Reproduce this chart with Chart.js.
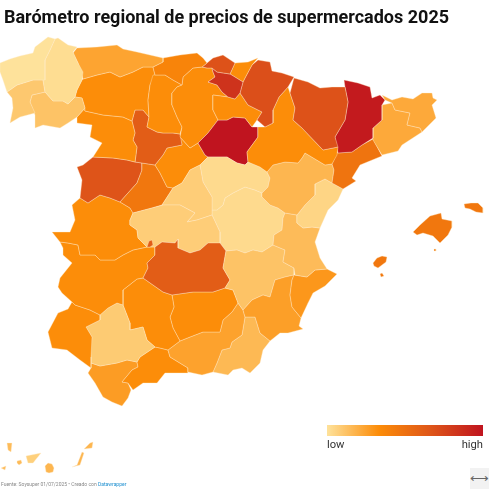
<!DOCTYPE html>
<html lang="es">
<head>
<meta charset="utf-8">
<title>Barómetro regional de precios de supermercados 2025</title>
<script src="https://cdn.jsdelivr.net/npm/chart.js@4/dist/chart.umd.min.js"></script>
<style>
  html, body { margin: 0; padding: 0; background: #fff; }
  body { position: relative; width: 489px; height: 489px; overflow: hidden; font-family: Roboto, sans-serif; }
  #map { position: absolute; left: 0; top: 0; }
  h1 { position: absolute; left: 4px; top: 5px; margin: 0; font-size: 18px; line-height: 24px; font-weight: 700; color: #111; white-space: nowrap; }
  #ramp { position: absolute; left: 327px; top: 425px; width: 156px; height: 11px; }
  .lab { position: absolute; top: 437px; font-size: 11.2px; line-height: 15px; color: #333; }
  #source { position: absolute; left: 1px; top: 481px; font-size: 5px; line-height: 7px; color: #888; white-space: nowrap; }
  #source span { color: #1d8fd0; }
  #expand { position: absolute; left: 470px; top: 468px; width: 19px; height: 21px; background: #f2f2f2; color: #666; font-size: 13px; line-height: 21px; text-align: center; }
</style>
</head>
<body>
<canvas id="map" width="489" height="489"></canvas>
<h1>Barómetro regional de precios de supermercados 2025</h1>
<div id="ramp"></div>
<div class="lab" style="left:327px">low</div>
<div class="lab" style="right:6px">high</div>
<div id="source">Fuente: Soysuper 01/07/2025 • Creado con <span>Datawrapper</span></div>
<div id="expand">⟷</div>
<script>
const rampStops = ['#fee29b', '#fc8c08', '#de5519', '#c0141f'];

const provinceNames = [
  'A Coruña', 'Lugo', 'Pontevedra', 'Ourense', 'Asturias', 'Cantabria', 'Bizkaia', 'Álava', 'Treviño', 'Gipuzkoa',
  'Navarra', 'La Rioja', 'Huesca', 'Zaragoza', 'Lleida', 'Girona', 'Barcelona', 'Tarragona', 'Teruel', 'Castellón',
  'Valencia', 'Alicante', 'Murcia', 'Albacete', 'Ciudad Real', 'Ciudad Real (enclave)', 'Toledo', 'Madrid', 'Guadalajara', 'Cuenca',
  'Soria', 'Burgos', 'Palencia', 'León', 'Zamora', 'Valladolid', 'Segovia', 'Ávila', 'Salamanca', 'Cáceres',
  'Badajoz', 'Huelva', 'Sevilla', 'Córdoba', 'Jaén', 'Granada', 'Almería', 'Málaga', 'Cádiz',
  'Mallorca', 'Menorca', 'Ibiza', 'Formentera', 'Cabrera', 'La Palma', 'Tenerife', 'La Gomera', 'El Hierro', 'Gran Canaria', 'Fuerteventura', 'Lanzarote'
];

const provinceValues = [
  0.00, 0.02, 0.10, 0.12, 0.24, 0.38, 0.68, 0.84, 0.33, 0.33,
  0.70, 0.33, 0.68, 0.33, 0.97, 0.22, 0.22, 0.48, 0.17, 0.05,
  0.15, 0.29, 0.26, 0.12, 0.62, 0.62, 0.08, 0.08, 0.03, 0.03,
  1.00, 0.33, 0.33, 0.33, 0.33, 0.62, 0.33, 0.46, 0.67, 0.33,
  0.33, 0.33, 0.09, 0.33, 0.33, 0.25, 0.16, 0.33, 0.27,
  0.46, 0.46, 0.46, 0.46, 0.46, 0.15, 0.07, 0.15, 0.15, 0.17, 0.17, 0.17
];

const provinceOutlines = [
  [[0,63],[10,59],[20,56],[33,53],[35,47],[48,37],[55,39],[50,50],[45,60],[45,80],[33,80],[17,85],[7,92],[3,80],[0,72]],
  [[55,39],[58,38],[68,45],[77,47],[73,52],[78,63],[83,72],[82,80],[77,90],[75,97],[68,104],[63,101],[53,101],[45,92],[43,80],[45,60],[50,50]],
  [[7,92],[17,85],[33,80],[43,80],[45,92],[32,95],[30,102],[35,113],[20,117],[10,123],[13,108],[12,98]],
  [[32,95],[45,92],[53,101],[63,101],[68,104],[75,97],[82,98],[85,108],[77,117],[68,123],[60,128],[43,125],[35,128],[35,115],[30,102]],
  [[77,48],[97,47],[117,45],[123,49],[137,52],[150,55],[163,58],[163,62],[153,67],[143,67],[133,72],[120,77],[110,72],[97,75],[83,79],[78,63],[73,53]],
  [[163,58],[180,55],[197,53],[203,58],[207,63],[202,67],[193,68],[183,77],[182,85],[173,80],[165,75],[155,75],[153,67],[163,62]],
  [[207,63],[213,58],[223,55],[235,63],[230,74],[217,72],[212,68],[207,68],[202,67]],
  [[212,68],[217,72],[230,74],[243,82],[240,93],[235,99],[228,97],[222,92],[217,85],[208,82],[215,77],[213,72]],
  [[222,88],[227,85],[233,88],[232,92],[225,92]],
  [[235,63],[248,62],[258,58],[252,65],[245,78],[243,82],[230,74]],
  [[258,60],[270,62],[272,71],[282,73],[294,77],[288,87],[279,97],[273,110],[273,123],[265,127],[257,120],[262,112],[248,105],[240,93],[243,82],[245,78],[252,65]],
  [[213,95],[228,97],[235,99],[240,93],[248,105],[262,112],[257,120],[252,127],[245,118],[233,117],[227,120],[218,120],[213,110]],
  [[294,78],[308,82],[320,88],[332,87],[345,87],[348,102],[345,120],[335,137],[338,147],[323,150],[302,128],[293,120],[295,108],[290,93]],
  [[288,87],[290,93],[295,108],[293,120],[302,128],[323,150],[338,147],[337,155],[332,164],[325,165],[305,153],[302,158],[298,163],[285,162],[273,165],[267,172],[260,167],[248,162],[247,152],[258,137],[258,127],[265,127],[273,123],[273,110],[279,97]],
  [[344,80],[358,83],[370,87],[372,98],[380,95],[385,100],[382,105],[382,120],[373,128],[373,138],[362,145],[352,152],[338,153],[335,137],[345,120],[348,102],[345,87]],
  [[385,100],[382,95],[392,100],[402,97],[413,99],[422,93],[432,93],[433,98],[437,100],[432,105],[436,118],[422,132],[420,128],[407,125],[410,113],[395,110],[392,103]],
  [[382,105],[392,103],[395,110],[410,113],[407,125],[420,128],[422,132],[402,145],[398,151],[382,155],[373,140],[373,128],[382,120]],
  [[373,139],[382,156],[360,165],[352,178],[356,181],[343,189],[332,183],[334,170],[332,164],[337,153],[352,152],[362,145]],
  [[267,172],[273,165],[285,162],[298,163],[302,158],[305,153],[325,165],[332,164],[334,170],[332,183],[325,179],[315,184],[315,195],[305,205],[297,215],[285,213],[278,208],[270,205],[262,197],[262,193],[268,187],[270,178]],
  [[315,184],[325,179],[332,183],[343,189],[338,200],[328,210],[320,228],[312,227],[303,228],[297,223],[297,215],[305,205],[315,195]],
  [[283,218],[285,213],[297,215],[297,223],[303,228],[312,227],[320,228],[315,242],[320,258],[327,269],[315,270],[307,277],[295,275],[294,268],[283,262],[285,250],[273,245],[274,235],[282,230]],
  [[294,275],[307,277],[315,270],[327,269],[337,274],[325,286],[313,293],[308,303],[301,318],[292,307],[290,295],[292,280]],
  [[243,310],[252,300],[263,295],[270,297],[275,280],[285,277],[294,275],[292,280],[290,295],[292,307],[301,318],[299,326],[303,329],[288,333],[280,333],[270,341],[260,333],[255,317],[245,317]],
  [[226,251],[237,250],[245,253],[253,250],[262,252],[273,245],[285,250],[283,262],[294,268],[294,275],[285,277],[275,280],[270,297],[263,295],[252,300],[243,310],[238,303],[233,290],[225,288],[230,280],[223,268]],
  [[162,242],[175,243],[178,239],[178,248],[190,253],[200,250],[208,243],[220,243],[226,251],[223,268],[230,280],[225,288],[213,292],[193,292],[172,295],[163,292],[143,278],[148,268],[147,263],[155,255],[155,247]],
  [[147,247],[149,241],[152,240],[153,245],[150,247]],
  [[130,220],[133,213],[152,208],[163,205],[180,205],[195,213],[187,222],[197,220],[212,215],[220,232],[220,243],[208,243],[200,250],[190,253],[178,248],[178,239],[175,243],[162,242],[155,247],[147,247],[138,238],[137,230],[130,225]],
  [[200,165],[190,170],[182,183],[173,188],[162,205],[180,205],[195,213],[187,222],[197,220],[212,215],[212,197],[203,182]],
  [[200,165],[208,157],[227,157],[237,163],[245,165],[248,162],[260,167],[267,172],[270,178],[268,187],[262,193],[255,190],[245,187],[233,193],[225,198],[223,205],[217,210],[212,210],[212,197],[203,182]],
  [[212,210],[217,210],[223,205],[225,198],[233,193],[245,187],[255,190],[262,193],[262,197],[270,205],[278,208],[285,213],[283,218],[282,230],[274,235],[273,245],[262,252],[253,250],[245,253],[237,250],[226,251],[220,243],[220,232],[212,215]],
  [[198,143],[208,133],[218,120],[227,120],[233,117],[245,118],[252,127],[258,127],[258,137],[247,152],[248,162],[245,165],[237,163],[227,157],[208,157],[205,155]],
  [[182,85],[183,77],[193,68],[202,67],[207,68],[212,68],[213,72],[215,77],[208,82],[217,85],[222,92],[228,97],[213,95],[213,110],[218,120],[208,133],[198,143],[190,148],[180,137],[182,127],[177,117],[172,105],[172,93],[177,87]],
  [[153,75],[165,75],[173,80],[182,85],[177,87],[172,93],[172,105],[177,117],[182,127],[180,134],[173,133],[163,133],[157,132],[147,127],[149,117],[148,100],[150,85]],
  [[83,79],[97,75],[110,72],[120,77],[133,72],[143,67],[153,67],[155,75],[150,85],[148,100],[149,117],[143,110],[135,110],[132,121],[123,117],[103,115],[85,111],[85,108],[82,98],[75,97],[77,90],[82,80]],
  [[85,108],[85,111],[103,115],[123,117],[132,121],[135,133],[133,140],[137,147],[135,162],[127,160],[113,158],[93,157],[102,143],[90,137],[92,125],[77,123],[77,117]],
  [[135,110],[143,110],[149,117],[147,127],[157,132],[163,133],[173,133],[180,134],[182,145],[167,148],[163,155],[155,165],[142,163],[135,162],[137,147],[133,140],[135,133],[132,121]],
  [[182,145],[180,137],[190,148],[198,143],[205,155],[208,157],[200,165],[190,170],[182,183],[173,188],[167,187],[160,173],[155,165],[163,155],[167,148]],
  [[142,163],[155,165],[160,173],[167,187],[173,188],[162,205],[152,208],[133,213],[130,208],[120,202],[128,193],[137,183],[142,170]],
  [[93,157],[113,158],[127,160],[135,162],[142,163],[142,170],[137,183],[128,193],[120,202],[110,198],[100,195],[88,203],[80,198],[82,180],[77,167],[83,165]],
  [[72,205],[80,198],[88,203],[100,195],[110,198],[120,202],[130,208],[133,213],[130,220],[130,225],[137,230],[138,238],[147,247],[133,250],[123,255],[115,260],[100,260],[95,255],[80,255],[78,245],[68,243],[60,242],[52,232],[70,232],[75,220]],
  [[60,242],[68,243],[78,245],[80,255],[95,255],[100,260],[115,260],[123,255],[133,250],[147,247],[155,247],[155,255],[147,263],[148,268],[143,278],[137,279],[123,290],[123,305],[117,303],[108,308],[100,315],[90,310],[75,305],[72,302],[62,293],[58,287],[60,278],[72,263],[63,255],[63,248]],
  [[72,302],[75,305],[90,310],[100,315],[100,320],[86,327],[92,337],[91,357],[91,368],[80,360],[67,350],[52,348],[48,332],[58,313],[68,309]],
  [[100,315],[108,308],[117,303],[123,305],[130,323],[130,330],[143,327],[147,340],[155,347],[140,357],[137,362],[127,360],[117,363],[100,366],[91,363],[91,343],[92,337],[86,327],[100,320]],
  [[123,290],[137,279],[143,278],[163,292],[172,295],[174,307],[170,317],[173,328],[180,341],[168,350],[160,348],[155,347],[147,340],[143,327],[130,330],[130,323],[123,305]],
  [[172,295],[193,292],[213,292],[225,288],[233,290],[238,303],[232,312],[223,320],[220,332],[203,332],[190,337],[180,341],[173,328],[170,317],[174,307]],
  [[168,350],[180,341],[190,337],[203,332],[220,332],[223,320],[232,312],[238,303],[243,310],[245,317],[242,335],[232,342],[230,348],[222,350],[217,363],[213,372],[202,375],[188,372],[188,368],[170,357]],
  [[245,317],[255,317],[260,333],[270,341],[263,350],[260,363],[250,373],[242,368],[233,370],[228,375],[213,372],[217,363],[222,350],[230,348],[232,342],[242,335]],
  [[155,347],[160,348],[168,350],[170,357],[188,368],[188,373],[165,373],[157,383],[143,383],[133,390],[128,383],[122,382],[132,370],[138,367],[137,362],[140,357]],
  [[91,363],[100,366],[117,363],[127,360],[137,362],[138,367],[132,370],[122,382],[128,383],[131,390],[128,398],[122,406],[112,402],[103,397],[95,383],[88,373],[91,368]],
  [[413,232],[420,225],[430,216],[441,213],[442,219],[452,221],[452,227],[448,235],[440,243],[433,236],[423,233],[417,235]],
  [[464,204],[471,203],[478,203],[483,208],[483,213],[476,212],[470,209],[465,208]],
  [[373,263],[377,258],[382,256],[387,257],[386,262],[382,265],[378,268],[374,266]],
  [[380,274],[382,273],[384,276],[381,277]],
  [[434,249],[436,249],[436,251],[434,251]],
  [[7,443],[12,443],[11,452],[8,450]],
  [[26,456],[41,453],[33,463],[28,463]],
  [[17,461],[21,460],[22,463],[19,465],[17,463]],
  [[1,468],[6,466],[5,470]],
  [[45,466],[48,463],[52,464],[54,468],[53,472],[49,473],[46,472]],
  [[72,467],[77,465],[82,452],[84,453],[80,465]],
  [[84,449],[90,443],[93,442],[92,448]]
];

// colour for a 0-1 barometer value
function rampColor(value) {
  const pos = Math.min(value, 0.999) * (rampStops.length - 1);
  const i = Math.floor(pos);
  const t = pos - i;
  const a = Chart.helpers.color(rampStops[i]).rgb;
  const b = Chart.helpers.color(rampStops[i + 1]).rgb;
  const mix = (p, q) => Math.round(p + (q - p) * t);
  return `rgb(${mix(a.r, b.r)}, ${mix(a.g, b.g)}, ${mix(a.b, b.b)})`;
}

document.getElementById('ramp').style.background =
  'linear-gradient(to right, ' + rampStops.join(', ') + ')';

const datasets = provinceNames.map((name, i) => {
  const outline = provinceOutlines[i];
  const closed = outline.concat([outline[0]]);
  return {
    label: name,
    data: closed.map(p => ({ x: p[0], y: p[1] })),
    showLine: true,
    tension: 0,
    fill: 'shape',
    backgroundColor: rampColor(provinceValues[i]),
    borderColor: 'rgba(255, 236, 205, 0.6)',
    borderWidth: 0.6,
    pointRadius: 0,
    clip: false
  };
});

new Chart(document.getElementById('map').getContext('2d'), {
  type: 'scatter',
  data: { datasets: datasets },
  options: {
    responsive: false,
    animation: false,
    layout: { padding: 0 },
    plugins: {
      legend: { display: false },
      tooltip: { enabled: false }
    },
    scales: {
      x: { type: 'linear', min: 0, max: 489, display: false },
      y: { type: 'linear', min: 0, max: 489, reverse: true, display: false }
    }
  }
});
</script>
</body>
</html>
